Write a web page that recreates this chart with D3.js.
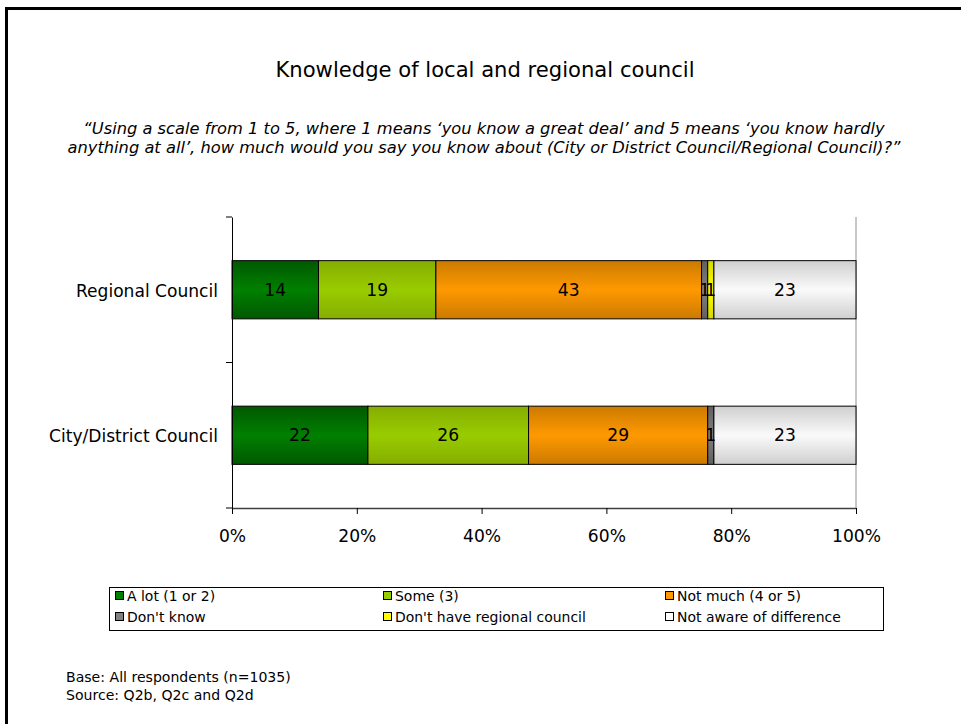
<!DOCTYPE html>
<html>
<head>
<meta charset="utf-8">
<script src="https://cdn.jsdelivr.net/npm/d3@7"></script>
<style>
  html, body { margin: 0; padding: 0; background: #fff; }
  svg { display: block; font-family: "DejaVu Sans", Verdana, sans-serif; }
</style>
</head>
<body>
<svg id="chart" width="961" height="724"></svg>
<script>
// Survey categories (top to bottom) and response series
const categories = ["Regional Council", "City/District Council"];
const seriesNames = ["A lot (1 or 2)", "Some (3)", "Not much (4 or 5)", "Don't know", "Don't have regional council", "Not aware of difference"];
const regionalValues = [14, 19, 43, 1, 1, 23];
const cityValues = [22, 26, 29, 1, 0, 23];
const tickLabels = ["0%", "20%", "40%", "60%", "80%", "100%"];
const tickValues = [0, 0.2, 0.4, 0.6, 0.8, 1];

// Colour ramps per series: [edge, centre]
const seriesColors = [
  ["#005800", "#008000"],
  ["#85ad00", "#99cc00"],
  ["#cc7a00", "#ff9900"],
  ["#606060", "#808080"],
  ["#d6d600", "#ffff00"],
  ["#cfcfcf", "#fafafa"]
];

const FONT = "DejaVu Sans, Verdana, sans-serif";
const svg = d3.select("#chart");
svg.append("rect").attr("width", 961).attr("height", 724).attr("fill", "#fff");

// Size a text element so its rendered length equals the given width
function fitWidth(sel, width) {
  sel.attr("font-size", 10);
  const len = sel.node().getComputedTextLength();
  sel.attr("font-size", (10 * width / len).toFixed(2));
  return sel;
}
function sizeFor(str, width, italic) {
  const t = svg.append("text").attr("font-family", FONT).attr("font-size", 10)
    .attr("font-style", italic ? "italic" : "normal").text(str);
  const s = 10 * width / t.node().getComputedTextLength();
  t.remove();
  return s;
}

// Outer frame
svg.append("path")
  .attr("d", "M6.5,724 V8.5 H961")
  .attr("fill", "none").attr("stroke", "#000").attr("stroke-width", 3);

// Gradients
const defs = svg.append("defs");
seriesColors.forEach((c, i) => {
  const g = defs.append("linearGradient").attr("id", "grad" + i)
    .attr("x1", 0).attr("y1", 0).attr("x2", 0).attr("y2", 1);
  g.append("stop").attr("offset", "0%").attr("stop-color", c[0]);
  g.append("stop").attr("offset", "50%").attr("stop-color", c[1]);
  g.append("stop").attr("offset", "100%").attr("stop-color", c[0]);
});

// Titles
fitWidth(svg.append("text").attr("x", 485).attr("y", 77).attr("text-anchor", "middle")
  .attr("fill", "#000").text("Knowledge of local and regional council"), 419);
const subLines = [
  "\u201cUsing a scale from 1 to 5, where 1 means \u2018you know a great deal\u2019 and 5 means \u2018you know hardly",
  "anything at all\u2019, how much would you say you know about (City or District Council/Regional Council)?\u201d"
];
const subSize = sizeFor(subLines[1], 834, true);
subLines.forEach((line, i) => {
  svg.append("text").attr("x", 484).attr("y", 134 + i * 19).attr("text-anchor", "middle")
    .attr("font-size", subSize).attr("font-style", "italic").attr("fill", "#000").text(line);
});

// Data table and stack (normalised to 100%)
const rows = [regionalValues, cityValues].map((vals, r) => {
  const o = { category: categories[r] };
  seriesNames.forEach((s, i) => o[s] = vals[i]);
  return o;
});
const stack = d3.stack().keys(seriesNames).offset(d3.stackOffsetExpand);
const layers = stack(rows);

const x = d3.scaleLinear().domain([0, 1]).range([232, 856]);
const y = d3.scaleBand().domain(categories).range([217, 508])
  .paddingInner(0.6).paddingOuter(0.3);

// 100% boundary line
svg.append("line").attr("x1", x(1)).attr("x2", x(1))
  .attr("y1", 217).attr("y2", 508).attr("stroke", "#909090").attr("stroke-width", 1);

const layerG = svg.append("g").selectAll("g").data(layers).join("g")
  .attr("fill", (d, i) => "url(#grad" + i + ")");
layerG.selectAll("rect").data(d => d.filter(p => p[1] - p[0] > 0)).join("rect")
  .attr("x", d => x(d[0]))
  .attr("y", d => y(d.data.category))
  .attr("width", d => x(d[1]) - x(d[0]))
  .attr("height", y.bandwidth())
  .attr("stroke", "#000").attr("stroke-width", 1);

// Value labels
const numSize = sizeFor("100%", 49, false);
layers.forEach((layer, i) => {
  layer.forEach(p => {
    const v = p.data[layer.key];
    if (!v) return;
    svg.append("text")
      .attr("x", x((p[0] + p[1]) / 2))
      .attr("y", y(p.data.category) + y.bandwidth() / 2 + 6)
      .attr("text-anchor", "middle").attr("font-size", numSize).attr("fill", "#000")
      .text(v);
  });
});

// Axes
const catSize = sizeFor("City/District Council", 169, false);
const yAxis = d3.axisLeft(y).tickSize(0).tickPadding(14);
const yg = svg.append("g").attr("transform", "translate(232,0)").call(yAxis);
yg.select(".domain").attr("stroke", "#000");
yg.selectAll("text").attr("font-size", catSize).attr("fill", "#000").attr("font-family", FONT)
  .attr("dy", "0.42em");
// category separators on the vertical axis
const sepYs = [217, (y(categories[0]) + y.bandwidth() + y(categories[1])) / 2, 508];
svg.append("g").selectAll("line").data(sepYs).join("line")
  .attr("x1", 226).attr("x2", 232).attr("y1", d => d).attr("y2", d => d)
  .attr("stroke", "#000");

const xAxis = d3.axisBottom(x).tickValues(tickValues)
  .tickFormat((d, i) => tickLabels[i]).tickSize(6).tickSizeOuter(0).tickPadding(16);
const xg = svg.append("g").attr("transform", "translate(0,508)").call(xAxis);
xg.select(".domain").attr("stroke", "#404040").attr("stroke-width", 1.5);
xg.selectAll(".tick line").attr("stroke", "#000");
xg.selectAll("text").attr("font-size", numSize).attr("fill", "#000").attr("font-family", FONT);

// Legend
svg.append("rect").attr("x", 109.5).attr("y", 587.5).attr("width", 774).attr("height", 43)
  .attr("fill", "#fff").attr("stroke", "#000");
const legendCols = [115, 383, 665];
const legendRows = [596, 617];
const legendFill = ["#008000", "#99cc00", "#ff9900", "#808080", "#ffff00", "#ffffff"];
const legSize = sizeFor("Don't have regional council", 191, false);
seriesNames.forEach((s, i) => {
  const lx = legendCols[i % 3], ly = legendRows[Math.floor(i / 3)];
  svg.append("rect").attr("x", lx + 0.5).attr("y", ly - 4.5).attr("width", 8).attr("height", 8)
    .attr("fill", legendFill[i]).attr("stroke", "#000");
  svg.append("text").attr("x", lx + 12).attr("y", ly + 5)
    .attr("font-size", legSize).attr("fill", "#000").text(s);
});

// Footnotes
const footSize = sizeFor("Base: All respondents (n=1035)", 225, false);
svg.append("text").attr("x", 66).attr("y", 682).attr("font-size", footSize).attr("fill", "#000")
  .text("Base: All respondents (n=1035)");
svg.append("text").attr("x", 66).attr("y", 700).attr("font-size", footSize).attr("fill", "#000")
  .text("Source: Q2b, Q2c and Q2d");
</script>
</body>
</html>
